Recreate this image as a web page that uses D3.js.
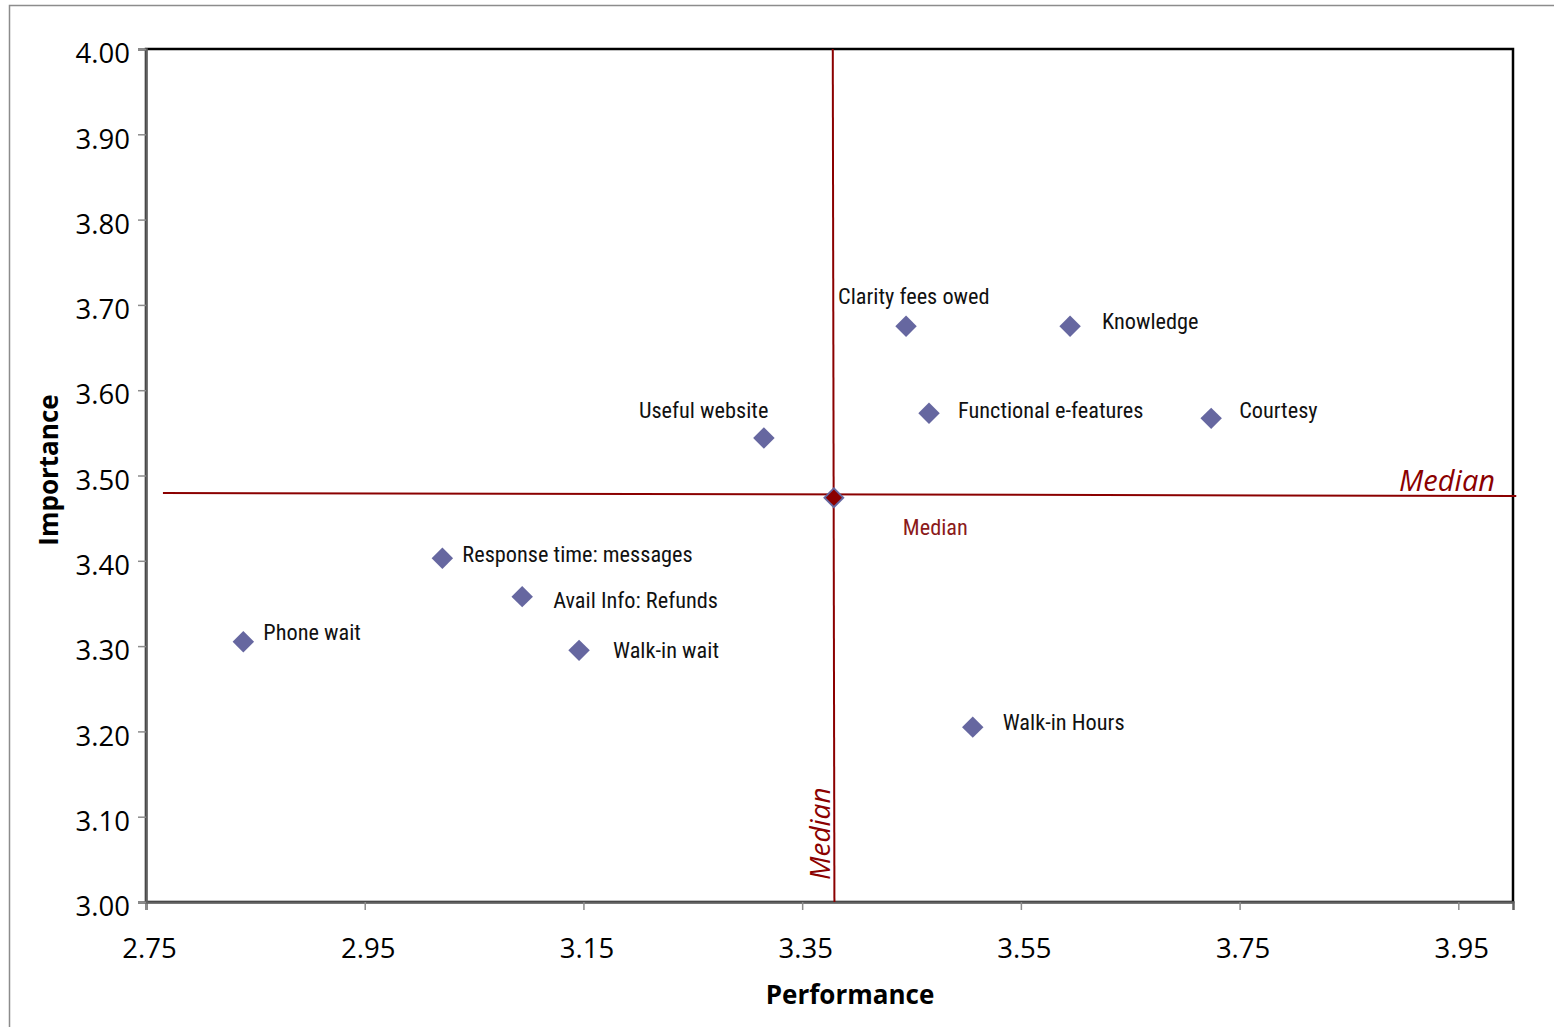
<!DOCTYPE html>
<html>
<head>
<meta charset="utf-8">
<script src="https://cdn.jsdelivr.net/npm/d3@7"></script>
<style>
  html, body { margin: 0; padding: 0; background: #fff; }
  svg { display: block; }
</style>
</head>
<body>
<svg id="chart" width="1554" height="1027"></svg>
<script>
// Service attributes: performance (x) vs importance (y)
const names = [
  "Clarity fees owed", "Knowledge", "Functional e-features", "Courtesy",
  "Useful website", "Response time: messages", "Avail Info: Refunds",
  "Phone wait", "Walk-in wait", "Walk-in Hours"
];
const performance = [3.445, 3.595, 3.466, 3.724, 3.315, 3.021, 3.094, 2.839, 3.146, 3.506];
const importance  = [3.675, 3.675, 3.573, 3.567, 3.544, 3.403, 3.358, 3.305, 3.295, 3.205];

// Median point and the two median reference lines
const medianPoint = { x: 3.379, y: 3.474 };
const medianVertical   = [{ x: 3.378, y: 4.0 }, { x: 3.3795, y: 3.0 }];
const medianHorizontal = [{ x: 2.7655, y: 3.4795 }, { x: 4.003, y: 3.476 }];

// Axis ticks
const xTicks = [2.75, 2.95, 3.15, 3.35, 3.55, 3.75, 3.95];
const yTicks = [3.0, 3.1, 3.2, 3.3, 3.4, 3.5, 3.6, 3.7, 3.8, 3.9, 4.0];

const svg = d3.select("#chart");
const plotLeft = 146, plotRight = 1513, plotTop = 49, plotBottom = 902;

const x = d3.scaleLinear().domain([2.75, 4.0]).range([plotLeft, plotRight]);
const y = d3.scaleLinear().domain([3.0, 4.0]).range([plotBottom, plotTop]);

const axisFont = "'Open Sans', 'Noto Sans', sans-serif";
const labelFont = "'Liberation Sans Narrow', 'Arial Narrow', 'Roboto Condensed', 'Liberation Sans', sans-serif";
const red = "#8b0000";
const pointColor = "#6667a0";

// Outer chart-area border
svg.append("rect")
  .attr("x", 9.5).attr("y", 5.5)
  .attr("width", 1600).attr("height", 1100)
  .attr("fill", "none").attr("stroke", "#8c8c8c").attr("stroke-width", 1.5);

// Plot frame
svg.append("rect")
  .attr("x", plotLeft).attr("y", plotTop)
  .attr("width", plotRight - plotLeft).attr("height", plotBottom - plotTop)
  .attr("fill", "#fff").attr("stroke", "#000").attr("stroke-width", 2.5);

// Axes
const xAxis = svg.append("g")
  .attr("transform", `translate(0,${plotBottom})`)
  .call(d3.axisBottom(x).tickValues(xTicks).tickSize(8).tickPadding(28)
    .tickFormat(d3.format(".2f")));
const yAxis = svg.append("g")
  .attr("transform", `translate(${plotLeft},0)`)
  .call(d3.axisLeft(y).tickValues(yTicks).tickSize(8).tickPadding(8)
    .tickFormat(d3.format(".2f")));

[xAxis, yAxis].forEach(g => {
  g.select(".domain").attr("stroke", "#606060").attr("stroke-width", 2.5);
  g.selectAll(".tick line").attr("stroke", "#8c8c8c").attr("stroke-width", 1.5);
  g.selectAll(".tick text")
    .attr("font-family", axisFont).attr("font-size", 27.5).attr("fill", "#000");
});
xAxis.selectAll(".tick text").attr("dx", 3);
yAxis.selectAll(".tick text").attr("dy", "0.5em");

// Axis titles
svg.append("text")
  .attr("x", 850).attr("y", 1004)
  .attr("text-anchor", "middle")
  .attr("font-family", axisFont).attr("font-weight", "bold").attr("font-size", 26)
  .text("Performance");
svg.append("text")
  .attr("transform", "translate(58,470) rotate(-90)")
  .attr("text-anchor", "middle")
  .attr("font-family", axisFont).attr("font-weight", "bold").attr("font-size", 26)
  .text("Importance");

// Median reference lines
const line = d3.line().x(d => x(d.x)).y(d => y(d.y));
[medianVertical, medianHorizontal].forEach(seg => {
  svg.append("path")
    .attr("d", line(seg))
    .attr("fill", "none").attr("stroke", red).attr("stroke-width", 2);
});

// Diamond markers
const points = names.map((n, i) => ({ name: n, x: performance[i], y: importance[i] }));
const square = size => d3.symbol().type(d3.symbolSquare).size(size)();

svg.append("g").selectAll("path")
  .data(points)
  .join("path")
  .attr("transform", d => `translate(${x(d.x)},${y(d.y)}) rotate(45)`)
  .attr("d", square(230))
  .attr("fill", pointColor);

// Median marker: blue edge under a dark red diamond
svg.append("path")
  .attr("transform", `translate(${x(medianPoint.x)},${y(medianPoint.y)}) rotate(45)`)
  .attr("d", square(230))
  .attr("fill", pointColor);
svg.append("path")
  .attr("transform", `translate(${x(medianPoint.x)},${y(medianPoint.y)}) rotate(45)`)
  .attr("d", square(130))
  .attr("fill", red);

// Point labels, offset from their markers
const labelOffsets = {
  "Clarity fees owed": [-68, -30],
  "Knowledge": [32, -5],
  "Functional e-features": [29, -3],
  "Courtesy": [28, -8],
  "Useful website": [-125, -28],
  "Response time: messages": [20, -4],
  "Avail Info: Refunds": [31, 4],
  "Phone wait": [20, -10],
  "Walk-in wait": [34, 0],
  "Walk-in Hours": [30, -5]
};

svg.append("g").selectAll("text")
  .data(points)
  .join("text")
  .attr("x", d => x(d.x) + labelOffsets[d.name][0])
  .attr("y", d => y(d.y) + labelOffsets[d.name][1])
  .attr("dy", "0.35em")
  .attr("font-family", labelFont).attr("font-size", 22.3).attr("fill", "#111")
  .text(d => d.name);

svg.append("text")
  .attr("x", x(medianPoint.x) + 69).attr("y", y(medianPoint.y) + 30)
  .attr("dy", "0.35em")
  .attr("font-family", labelFont).attr("font-size", 22.3).attr("fill", "#8b1a1a")
  .text("Median");

// Italic "Median" captions along the reference lines
svg.append("text")
  .attr("x", 1495).attr("y", 491)
  .attr("text-anchor", "end")
  .attr("font-family", axisFont).attr("font-style", "italic").attr("font-size", 29)
  .attr("fill", red)
  .text("Median");
svg.append("text")
  .attr("transform", "translate(830,880) rotate(-90)")
  .attr("text-anchor", "start")
  .attr("font-family", axisFont).attr("font-style", "italic").attr("font-size", 28)
  .attr("fill", red)
  .text("Median");
</script>
</body>
</html>
